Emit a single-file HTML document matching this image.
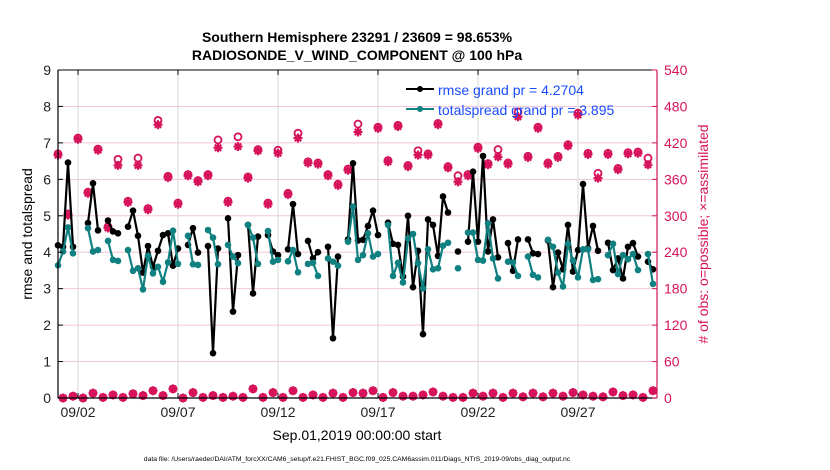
<!DOCTYPE html>
<html><head><meta charset="utf-8">
<style>
body{margin:0;background:#fff;}
svg{display:block;font-family:"Liberation Sans",sans-serif;}
</style></head>
<body>
<svg id="chart" width="830" height="470" viewBox="0 0 830 470">
<rect width="830" height="470" fill="#fff"/>
<g id="grid"></g>
<g id="marks"></g>
<g id="axes"></g>
<text x="357" y="42" text-anchor="middle" font-size="14" font-weight="bold">Southern Hemisphere 23291 / 23609 = 98.653%</text>
<text x="357" y="60" text-anchor="middle" font-size="14" font-weight="bold">RADIOSONDE_V_WIND_COMPONENT @ 100 hPa</text>
<text transform="translate(32,234) rotate(-90)" text-anchor="middle" font-size="14">rmse and totalspread</text>
<text transform="translate(708,234) rotate(-90)" text-anchor="middle" font-size="14" fill="#d6135b"># of obs: o=possible; ×=assimilated</text>
<text x="357" y="440" text-anchor="middle" font-size="14">Sep.01,2019 00:00:00 start</text>
<text x="357" y="461" text-anchor="middle" font-size="6.8">data file: /Users/raeder/DAI/ATM_forcXX/CAM6_setup/f.e21.FHIST_BGC.f09_025.CAM6assim.011/Diags_NTrS_2019-09/obs_diag_output.nc</text>
<g>
<g>
<line x1="406" y1="89" x2="434" y2="89" stroke="#000" stroke-width="2"/><circle cx="420" cy="89" r="3" fill="#000"/>
<text x="438" y="95" font-size="14" fill="#1a4cff">rmse grand pr = 4.2704</text></g>
<g>
<line x1="406" y1="109" x2="434" y2="109" stroke="#108080" stroke-width="2"/><circle cx="420" cy="109" r="3" fill="#108080"/>
<text x="438" y="115" font-size="14" fill="#1a4cff">totalspread grand pr = 3.895</text></g>
</g>
</svg>
<script>
const N=null;
const rmse=[4.19,4.15,6.46,4.15,N,N,4.8,5.89,4.6,N,4.87,4.57,4.52,N,4.7,5.14,4.45,3.44,4.17,3.6,4.04,4.47,4.52,3.63,4.1,N,4.2,4.66,3.99,N,4.17,1.23,4.1,N,4.93,2.37,3.92,N,4.75,2.87,4.43,N,4.47,4.02,3.92,N,4.08,5.32,3.95,N,4.31,3.83,4.0,N,4.15,1.64,3.88,N,4.35,6.44,4.32,4.34,4.72,5.14,4.47,N,4.81,4.23,4.2,3.33,5.0,3.04,4.04,1.75,4.9,4.75,3.9,5.53,5.09,N,4.02,N,4.29,6.21,4.29,6.64,4.02,4.9,3.86,N,4.25,3.49,4.35,N,4.35,3.97,3.95,N,4.32,3.04,3.99,3.53,4.75,3.47,4.06,5.87,4.11,4.72,4.04,N,4.26,3.51,3.83,3.28,4.15,4.25,3.88,N,3.74,3.53];
const spread=[3.64,4.02,4.68,3.97,N,N,4.66,4.02,4.06,N,4.31,3.79,3.76,N,4.06,3.49,3.56,2.98,3.9,3.42,3.6,3.19,3.72,4.59,3.68,N,4.45,3.67,3.65,N,4.61,4.4,3.67,N,4.2,3.88,3.7,N,4.75,4.4,3.68,N,4.58,3.74,3.79,N,3.75,4.06,3.45,N,3.68,3.71,3.35,N,3.83,3.74,3.63,N,4.29,5.25,3.79,3.92,4.52,3.88,3.95,N,4.75,3.35,3.71,3.17,4.38,4.5,3.7,3.01,4.08,3.53,3.56,4.18,4.26,N,3.56,N,4.54,4.54,3.79,3.77,4.79,3.83,3.28,N,3.74,3.72,3.35,N,3.88,3.38,3.31,N,4.34,4.15,3.44,3.06,4.23,3.77,3.31,4.08,4.08,3.24,3.26,N,3.92,4.23,3.4,3.92,3.81,3.95,3.51,N,3.95,3.13];
const assimTop=[400,301,426,337,408,280,383,322,383,310,450,363,319,366,356,366,412,322,414,362,407,319,403,335,428,387,385,366,350,375,438,N,444,389,447,381,400,400,450,379,356,366,411,384,397,385,463,396,444,385,396,415,466,401,362,401,376,402,403,384];
const possTop=[402,303,428,339,410,282,393,324,395,312,457,365,321,368,358,368,425,324,430,364,409,321,408,337,436,389,387,368,352,377,451,N,446,391,449,383,407,402,452,381,366,368,413,386,409,387,471,398,446,387,398,417,469,403,370,403,378,404,405,395];
const assimBot=[0,3,0,8,1,5,1,7,4,12,4,15,0,9,1,4,1,3,1,15,1,9,1,12,1,5,1,8,1,9,8,12,1,9,3,3,5,10,3,1,1,8,3,8,1,8,2,8,2,8,3,9,5,3,2,10,4,5,1,12];
const yTicks=[0,1,2,3,4,5,6,7,8,9];
const y2Ticks=[0,60,120,180,240,300,360,420,480,540];
const xTickDays=[1,6,11,16,21,26];
const xTickLabels=["09/02","09/07","09/12","09/17","09/22","09/27"];

const L=58,R=657,T=70,B=398;
const xs=t=>L+20*t;
const ys=v=>B-(B-T)*v/9;
const y2s=v=>B-(B-T)*v/540;
const NS="http://www.w3.org/2000/svg";
function mk(tag,attrs,parent){const e=document.createElementNS(NS,tag);for(const k in attrs)e.setAttribute(k,attrs[k]);parent.appendChild(e);return e;}
const grid=document.getElementById('grid'),marks=document.getElementById('marks'),axes=document.getElementById('axes');
yTicks.forEach(v=>{if(v>0&&v<9){const l=mk('line',{x1:L,x2:R,y1:ys(v),y2:ys(v),stroke:'#f4c6d6','stroke-width':1},grid);

}});
xTickDays.forEach(d=>{const l=mk('line',{x1:xs(d),x2:xs(d),y1:T,y2:B,stroke:'#d8d8d8','stroke-width':1},grid);

});

function star(g,x,y,c){const r=4.5;for(let a=0;a<180;a+=45){const rad=a*Math.PI/180;mk('line',{x1:x-r*Math.cos(rad),y1:y-r*Math.sin(rad),x2:x+r*Math.cos(rad),y2:y+r*Math.sin(rad),stroke:c,'stroke-width':2.2},g);}}
const MC='#d6135b';
const obsG=mk('g',{},marks);


assimTop.forEach((v,k)=>{if(v===null)return;const x=xs(k*0.5);
 const c=mk('circle',{cx:x,cy:y2s(possTop[k]),r:3.5,fill:'none',stroke:MC,'stroke-width':1.8},obsG);
 
 
 star(obsG,x,y2s(v),MC);
 mk('circle',{cx:x,cy:y2s(v),r:2.5,fill:MC},obsG);});
assimBot.forEach((v,k)=>{const x=xs(k*0.5+0.25);
 const c=mk('circle',{cx:x,cy:y2s(v),r:3.8,fill:MC,stroke:MC,'stroke-width':1},obsG);
 
 
 star(obsG,x,y2s(v),MC);});

function series(arr,color,name){const g=mk('g',{},marks);
 
 
 let seg=[];const segs=[];
 arr.forEach((v,i)=>{if(v===null){if(seg.length)segs.push(seg);seg=[];}else seg.push([xs(i*0.25),ys(v)]);});
 if(seg.length)segs.push(seg);
 segs.forEach(s=>{if(s.length>1)mk('polyline',{points:s.map(p=>p.join(',')).join(' '),fill:'none',stroke:color,'stroke-width':2.2},g);});
 arr.forEach((v,i)=>{if(v===null)return;const c=mk('circle',{cx:xs(i*0.25),cy:ys(v),r:3.3,fill:color},g);
 
 });}
series(rmse,'#000','rmse-series');
series(spread,'#108080','totalspread-series');

mk('line',{x1:L,x2:R,y1:T,y2:T,stroke:'#000','stroke-width':1},axes);
mk('line',{x1:L,x2:R,y1:B,y2:B,stroke:'#000','stroke-width':1.2},axes);
mk('line',{x1:L,x2:L,y1:T,y2:B,stroke:'#000','stroke-width':1.2},axes);
mk('line',{x1:R,x2:R,y1:T,y2:B,stroke:MC,'stroke-width':1.2},axes);
yTicks.forEach(v=>{mk('line',{x1:L,x2:L+5,y1:ys(v),y2:ys(v),stroke:'#000'},axes);
 const t=mk('text',{x:L-7,y:ys(v)+5,'text-anchor':'end','font-size':14,fill:'#222'},axes);t.textContent=v;
 
 });
y2Ticks.forEach(v=>{mk('line',{x1:R-5,x2:R,y1:y2s(v),y2:y2s(v),stroke:MC},axes);
 const t=mk('text',{x:R+7,y:y2s(v)+5,'font-size':14,fill:MC},axes);t.textContent=v;
 
 });
xTickDays.forEach((d,i)=>{mk('line',{x1:xs(d),x2:xs(d),y1:B,y2:B-5,stroke:'#000'},axes);mk('line',{x1:xs(d),x2:xs(d),y1:T,y2:T+5,stroke:'#000'},axes);
 const t=mk('text',{x:xs(d),y:417,'text-anchor':'middle','font-size':14,fill:'#222'},axes);t.textContent=xTickLabels[i];
 
 });
</script>
</body></html>
